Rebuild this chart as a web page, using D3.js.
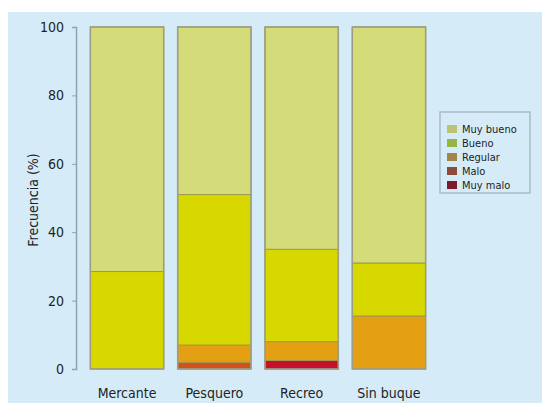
<!DOCTYPE html>
<html>
<head>
<meta charset="utf-8">
<script src="https://cdn.jsdelivr.net/npm/d3@7"></script>
<style>
  body { margin: 0; background: #fff; }
  text { font-family: "DejaVu Sans Condensed", "DejaVu Sans", sans-serif; fill: #222; }
</style>
</head>
<body>
<div id="chart"></div>
<script>
// data
const categories = ["Mercante", "Pesquero", "Recreo", "Sin buque"];
const levels = ["Muy malo", "Malo", "Regular", "Bueno", "Muy bueno"];
const muyMalo  = [0, 0, 2.5, 0];
const malo     = [0, 2, 0, 0];
const regular  = [0, 5, 5.5, 15.5];
const bueno    = [28.5, 44, 27, 15.5];
const muyBueno = [71.5, 49, 65, 69];
const yTicks = [0, 20, 40, 60, 80, 100];

const barColors = ["#c8102a", "#d2501a", "#e4a012", "#d6d800", "#d3dc78"];
const legendColors = ["#7c1c2a", "#8c4c3c", "#a48448", "#94b444", "#bcc474"];

const W = 542, H = 403;
const margin = {top: 27, right: 116, bottom: 34, left: 76};
const width = W - margin.left - margin.right,
      height = H - margin.top - margin.bottom;

const svg = d3.select("#chart").append("svg")
  .attr("width", W).attr("height", H);

// light blue panel
svg.append("rect")
  .attr("x", 8).attr("y", 12).attr("width", W - 8).attr("height", H - 12)
  .attr("fill", "#d5ecf8");

const g = svg.append("g")
  .attr("transform", `translate(${margin.left},${margin.top})`);

const x = d3.scaleBand().domain(categories).range([10, 354]).paddingInner(0.16).paddingOuter(0.05);
const y = d3.scaleLinear().domain([0, 100]).range([height, 0]);

// build stacked rows
const rows = categories.map((c, i) => ({
  cat: c,
  "Muy malo": muyMalo[i], "Malo": malo[i], "Regular": regular[i],
  "Bueno": bueno[i], "Muy bueno": muyBueno[i]
}));
const stack = d3.stack().keys(levels)(rows);

g.selectAll("g.layer")
  .data(stack)
  .enter().append("g")
  .attr("class", "layer")
  .attr("fill", (d, i) => barColors[i])
  .selectAll("rect")
  .data(d => d.filter(s => s[1] - s[0] > 0))
  .enter().append("rect")
  .attr("x", d => x(d.data.cat))
  .attr("width", x.bandwidth())
  .attr("y", d => y(d[1]))
  .attr("height", d => y(d[0]) - y(d[1]))
  .attr("stroke", "#a09a50")
  .attr("stroke-width", 1);

// outline per bar
g.selectAll("rect.outline")
  .data(categories)
  .enter().append("rect")
  .attr("class", "outline")
  .attr("x", d => x(d))
  .attr("width", x.bandwidth())
  .attr("y", y(100))
  .attr("height", y(0) - y(100))
  .attr("fill", "none")
  .attr("stroke", "#9c9c88")
  .attr("stroke-width", 1.5);

// y axis
const yAxis = g.append("g")
  .call(d3.axisLeft(y).tickValues(yTicks).tickSize(4).tickPadding(8));
yAxis.select(".domain").attr("stroke", "#8aa4b4").attr("stroke-width", 1.5);
yAxis.selectAll(".tick line").attr("stroke", "#8aa4b4");
yAxis.selectAll(".tick text")
  .style("font-size", "14px")
  .attr("fill", "#222");

// category labels
g.selectAll("text.cat")
  .data(categories)
  .enter().append("text")
  .attr("class", "cat")
  .attr("x", d => x(d) + x.bandwidth() / 2)
  .attr("y", height + 29)
  .attr("text-anchor", "middle")
  .style("font-size", "14px")
  .text(d => d);

// y title
svg.append("text")
  .attr("transform", "translate(38,200) rotate(-90)")
  .attr("text-anchor", "middle")
  .style("font-size", "14px")
  .text("Frecuencia (%)");

// legend
const lg = svg.append("g").attr("transform", "translate(440,112)");
lg.append("rect")
  .attr("width", 90).attr("height", 81)
  .attr("fill", "none")
  .attr("stroke", "#a8bcc8").attr("stroke-width", 1.5);
const legendOrder = levels.slice().reverse();
const li = lg.selectAll("g.item")
  .data(legendOrder)
  .enter().append("g")
  .attr("class", "item")
  .attr("transform", (d, i) => `translate(7,${17 + i * 14})`);
li.append("rect")
  .attr("width", 10).attr("height", 8).attr("y", -4)
  .attr("fill", d => legendColors[levels.indexOf(d)]);
li.append("text")
  .attr("x", 15).attr("y", 4)
  .style("font-size", "11px")
  .text(d => d);
</script>
</body>
</html>
